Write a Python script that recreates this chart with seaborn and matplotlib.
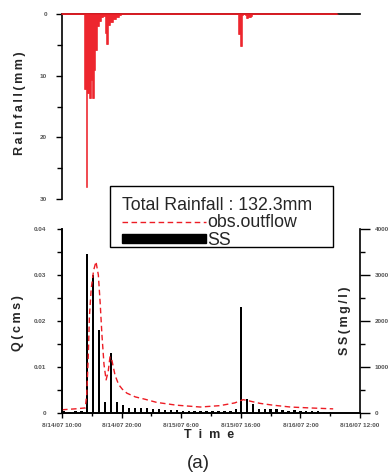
import numpy as np
import pandas as pd
import matplotlib
matplotlib.use("Agg")
import matplotlib.pyplot as plt
import seaborn as sns
from matplotlib.ticker import MultipleLocator, FuncFormatter
from matplotlib.lines import Line2D
from matplotlib.patches import Patch, Rectangle

sns.set_style("ticks")
plt.rcParams["font.family"] = ["Liberation Sans", "DejaVu Sans"]

# x is hours after 8/14/07 10:00
tick_hours = [0, 10, 20, 30, 40, 50]
tick_labels = ["8/14/07 10:00", "8/14/07 20:00", "8/15/07 6:00",
               "8/15/07 16:00", "8/16/07 2:00", "8/16/07 12:00"]

# rainfall, 10-minute totals (mm)
rain_end_h = 46.1
rain1_start_h = 3.667   # 13:40
rain1_mm = [12.2, 12.2, 28.0, 12.8, 12.8, 13.6, 13.6, 10.7, 13.6, 13.6,
            9.1, 5.8, 5.8, 2.0, 2.0, 1.2, 1.2, 0.5, 0.5, 0.3,
            0.3, 3.1, 4.9, 4.9, 1.8, 1.8, 1.3, 1.3, 1.3, 0.8,
            0.8, 0.8, 0.5, 0.5, 0.5, 0.2, 0.2]
rain2_start_h = 29.5    # 8/15 15:30
rain2_mm = [3.2, 3.2, 5.2, 5.2, 0.2, 0.0, 0.0, 0.2, 0.6, 0.6,
            0.5, 0.5, 0.5, 0.3]

# observed outflow (cms)
q_hours = [0, 2.2, 3.9, 4.15, 4.4, 4.6, 4.9, 5.3, 5.7, 6.1,
           6.4, 6.7, 7.05, 7.4, 7.75, 8.05, 8.35, 8.9, 9.5, 10.1,
           10.9, 12.3, 13.9, 15.9, 19.2, 23.2, 26.5, 29.0, 30.4, 31.5,
           33.2, 35.4, 38.3, 41.6, 45.5]
q_cms = [0.0007, 0.0009, 0.0011, 0.004, 0.012, 0.021, 0.027, 0.031, 0.0329, 0.030,
         0.024, 0.017, 0.0105, 0.0072, 0.009, 0.0122, 0.0116, 0.0082, 0.0062, 0.0052,
         0.0043, 0.0035, 0.003, 0.0023, 0.0017, 0.0013, 0.0016, 0.0022, 0.0029, 0.0026,
         0.0021, 0.0017, 0.0013, 0.0011, 0.0009]

# suspended solids (mg/l)
ss_hours = [0.25, 1.25, 2.25, 3.25, 4.25, 5.25, 6.25, 7.25, 8.25, 9.25,
            10.25, 11.25, 12.25, 13.25, 14.25, 15.25, 16.25, 17.25, 18.25, 19.25,
            20.25, 21.25, 22.25, 23.25, 24.25, 25.25, 26.25, 27.25, 28.25, 29.25,
            30, 31, 32, 33, 34, 35, 36, 37, 38, 39,
            40, 41, 42, 43, 44, 45]
ss_mgl = [35, 30, 40, 35, 3450, 3000, 1800, 250, 1310, 230,
          170, 100, 115, 115, 100, 95, 80, 70, 65, 55,
          50, 45, 45, 50, 50, 45, 45, 45, 50, 85,
          2310, 310, 185, 95, 90, 85, 80, 60, 50, 55,
          40, 40, 35, 35, 30, 28]

total_rain_label = "Total Rainfall : 132.3mm"

red = "#ED1C24"
tick_color = "#555555"

# full 10-minute rainfall series
n_steps = int(round(rain_end_h * 6)) + 1
rain = np.zeros(n_steps)
i1 = int(round(rain1_start_h * 6))
rain[i1:i1 + len(rain1_mm)] = rain1_mm
i2 = int(round(rain2_start_h * 6))
rain[i2:i2 + len(rain2_mm)] = rain2_mm
rain_df = pd.DataFrame({"h": np.arange(n_steps) / 6, "mm": rain})

fig = plt.figure(figsize=(3.91, 4.75), dpi=100)
W, H = 391, 475
ax_r = fig.add_axes([62 / W, 1 - 199 / H, 298 / W, 185 / H])
ax_q = fig.add_axes([62 / W, 1 - 413 / H, 298 / W, 184 / H])
ax_s = ax_q.twinx()

# rainfall (inverted)
ax_r.bar(rain_df["h"], rain_df["mm"], width=1 / 6, align="edge", color=red,
         edgecolor=red, linewidth=0.4, zorder=3)
sns.lineplot(x=[rain_df["h"].min(), rain_df["h"].max()], y=[0, 0], ax=ax_r,
             color=red, lw=1.2, clip_on=False, zorder=10)
ax_r.set_xlim(0, 50)
ax_r.set_ylim(30, 0)
ax_r.set_xticks([])
ax_r.yaxis.set_major_locator(MultipleLocator(10))
ax_r.yaxis.set_minor_locator(MultipleLocator(5))
for s in ["right", "bottom"]:
    ax_r.spines[s].set_visible(False)

# SS bars and outflow line
ax_s.bar(ss_hours, ss_mgl, width=0.38, color="black", linewidth=0)
sns.lineplot(x=q_hours, y=q_cms, ax=ax_q, color=red, lw=1.0, estimator=None)
ax_q.lines[-1].set_dashes([4, 2.5])
ax_q.set_zorder(ax_s.get_zorder() + 1)
ax_q.patch.set_visible(False)

ax_q.set_xlim(0, 50)
ax_q.set_ylim(0, 0.04)
ax_s.set_ylim(0, 4000)
ax_q.set_xticks(tick_hours)
ax_q.set_xticklabels(tick_labels)
ax_q.xaxis.set_minor_locator(MultipleLocator(5))
ax_q.yaxis.set_major_locator(MultipleLocator(0.01))
ax_q.yaxis.set_minor_locator(MultipleLocator(0.005))
ax_q.yaxis.set_major_formatter(FuncFormatter(lambda v, p: f"{v:g}"))
ax_s.yaxis.set_major_locator(MultipleLocator(1000))
ax_s.yaxis.set_minor_locator(MultipleLocator(500))
ax_q.spines["top"].set_visible(False)
ax_s.spines["top"].set_visible(False)
ax_q.spines["right"].set_visible(False)
ax_q.set_xlabel("")
ax_q.set_ylabel("")

for ax in (ax_r, ax_q, ax_s):
    for sp in ax.spines.values():
        sp.set_linewidth(1.2)
        sp.set_color("black")
    ax.tick_params(which="both", direction="out", width=1.0, color="black",
                   labelsize=4.6, labelcolor=tick_color)
    for lab in ax.get_xticklabels() + ax.get_yticklabels():
        lab.set_fontweight("bold")

ax_r.tick_params(axis="y", which="major", length=4.3, pad=6.5)
ax_r.tick_params(axis="y", which="minor", length=3.8)
ax_q.tick_params(axis="y", which="major", length=3.8, pad=7.5)
ax_q.tick_params(axis="y", which="minor", length=3.4)
ax_q.tick_params(axis="x", which="major", length=3.4, pad=3.5)
ax_q.tick_params(axis="x", which="minor", length=2.2)
ax_s.tick_params(axis="y", which="major", length=7.2, pad=3.5)
ax_s.tick_params(axis="y", which="minor", length=3.6)

# axis titles (letter-spaced with thin spaces)
def spaced(s):
    return "\u2009".join(s)

lab_kw = dict(fontsize=9, fontweight="bold", ha="center", va="center")
fig.text(20 / W, 1 - 103 / H, spaced("Rainfall(mm)"), rotation=90, **lab_kw)
fig.text(18 / W, 1 - 323 / H, spaced("Q(cms)"), rotation=90, **lab_kw)
fig.text(345 / W, 1 - 321 / H, spaced("SS(mg/l)"), rotation=90, **lab_kw)
fig.text(209 / W, 1 - 435 / H, "T  i  m  e", fontsize=9, fontweight="bold",
         ha="center", va="center")
fig.text(198 / W, 1 - 463 / H, "(a)", fontsize=13.5, ha="center", va="center")

handles = [Line2D([], [], color=red, lw=1.0, dashes=[4, 2.5]),
           Patch(facecolor="black", edgecolor="black")]
leg = fig.legend(handles, ["obs.outflow", "SS"], title=total_rain_label,
                 loc="upper left", bbox_to_anchor=(114 / W, 1 - 189 / H),
                 fontsize=12.8, title_fontsize=12.8, alignment="left",
                 frameon=False, borderpad=0.45, handlelength=4.7, handleheight=0.45,
                 handletextpad=0.1, labelspacing=0.02, borderaxespad=0)
fig.patches.append(Rectangle((110 / W, 1 - 247 / H), 223 / W, 61 / H,
                             transform=fig.transFigure, facecolor="white",
                             edgecolor="black", linewidth=1.0, zorder=4))
leg.set_zorder(5)

fig.savefig("out.png", dpi=100)
